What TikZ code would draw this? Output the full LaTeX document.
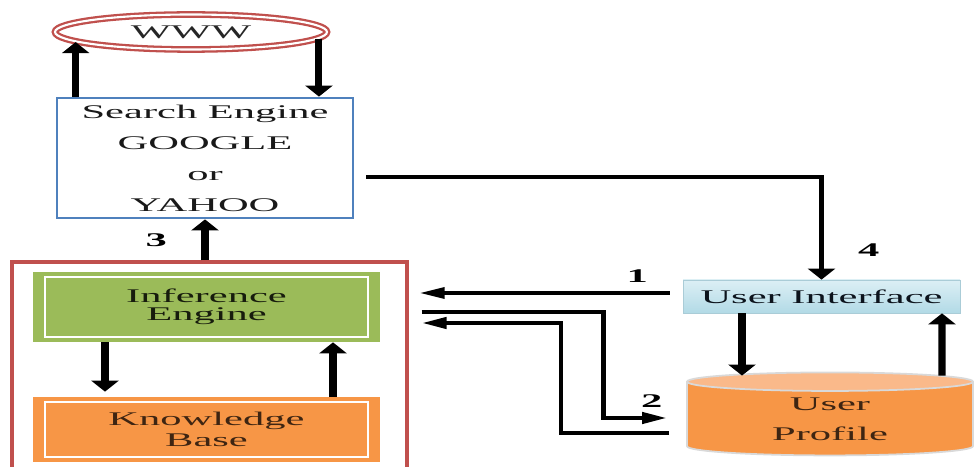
\documentclass[tikz,border=0pt]{standalone}
\usepackage{fontspec}
\setmainfont{Liberation Serif}[FakeStretch=2.2]
\usetikzlibrary{arrows.meta,shapes.geometric}

\definecolor{wwwred}{HTML}{C0504D}
\definecolor{seblue}{HTML}{4F81BD}
\definecolor{iegreen}{HTML}{9BBB59}
\definecolor{kborange}{HTML}{F79646}
\definecolor{uplight}{HTML}{FAB98A}
\definecolor{uitop}{HTML}{DCEFF5}
\definecolor{uibot}{HTML}{B2DAE6}

\begin{document}
\begin{tikzpicture}[
        x=0.2mm, y=-0.2mm,
        >={Triangle[length=2.2mm,width=5.4mm]},
        mytext/.style={font=\fontsize{11}{#1}\selectfont, align=center, inner sep=0pt},
        mypanel/.style={rectangle, fill=#1, minimum width=6.94cm},
        varrow/.style={line width=4pt, ->},
        harrow/.style={line width=1.9pt, -{Triangle[length=5mm,width=2.2mm]}},
        elbow/.style={line width=2.4pt},
        num/.style={font=\fontsize{11}{13}\selectfont\bfseries, inner sep=2pt},
    ]
    \useasboundingbox (0,0) rectangle (978,467);

    \node[ellipse, draw=wwwred, double=white, double distance=1.2pt, line width=1.3pt,
          minimum width=5.44cm, minimum height=0.7cm, mytext=13, text=black!85] (WWW) at (191,32) {WWW};
    \node[draw=seblue, line width=1.6pt, minimum width=5.92cm, minimum height=2.4cm,
          mytext=17.6, text=black!90] (Search) at (205,158) {Search Engine\\GOOGLE\\or\\YAHOO};
    \node[draw=wwwred, line width=1.8pt, minimum width=7.9cm, minimum height=4.2cm] (System) at (209.5,367) {};
    \node[mypanel=iegreen, minimum height=1.4cm, mytext=10.5, text=black!85!iegreen] (Inference) at (206.5,307) {Inference\\Engine};
    \node[mypanel=kborange, minimum height=1.3cm, mytext=12, text=black!75!kborange] (Knowledge) at (206.5,429.5) {Knowledge\\Base};
    \foreach \n in {Inference,Knowledge}
        \draw[white, line width=1.2pt] ([shift={(12,5)}]\n.north west) rectangle ([shift={(-12,-5)}]\n.south east);
    \node[top color=uitop, bottom color=uibot, draw=uibot!85!gray, minimum width=5.54cm, minimum height=0.66cm,
          mytext=13, text=black!85!seblue] (UI) at (821.5,296.5) {User Interface};
    \node[cylinder, shape border rotate=90, aspect=0.16, minimum width=5.72cm, minimum height=1.66cm,
          cylinder uses custom fill, cylinder body fill=kborange, cylinder end fill=uplight,
          draw=black!15, line width=1pt, mytext=17, text=black!75!kborange] (Profile) at (830,419) {User\\Profile};

    % web search
    \draw[varrow] (Search.north -| WWW.185) -- (WWW.185);
    \draw[varrow] (WWW.357) -- (WWW.357 |- Search.north);
    \draw[varrow] (Search.south |- System.north) -- (Search.south) node[num, midway, left=0.62cm] {3};
    \draw[elbow, ->] ([shift={(12,19)}]Search.east) -| (UI.north) node[num, pos=0.855, right=0.62cm] {4};

    % user side
    \draw[harrow] ([shift={(-13,-3.5)}]UI.west) -- ++(-250,0) node[num, pos=0.13, above=3pt] {1};
    \draw[elbow, -{Triangle[length=5mm,width=2.2mm]}] ([shift={(13,-55)}]System.east) -- ++(182,0)
        |- ([shift={(-19,-1)}]Profile.west) node[num, pos=0.88, above=3pt] {2};
    \draw[elbow, -{Triangle[length=5mm,width=2.2mm]}] ([shift={(-17,14)}]Profile.west) -- ++(-108,0)
        |- ([shift={(13,-44)}]System.east);
    \draw[varrow] ([shift={(-79.5,0)}]UI.south) -- ([shift={(-88,4)}]Profile.north);
    \draw[varrow] ([shift={(112,4)}]Profile.north) -- ([shift={(120.5,0)}]UI.south);

    % expert system
    \draw[varrow] ([shift={(-101.5,0)}]Inference.south) -- ([shift={(-101.5,-5)}]Knowledge.north);
    \draw[varrow] ([shift={(126.5,0)}]Knowledge.north) -- ([shift={(126.5,0)}]Inference.south);
\end{tikzpicture}
\end{document}
